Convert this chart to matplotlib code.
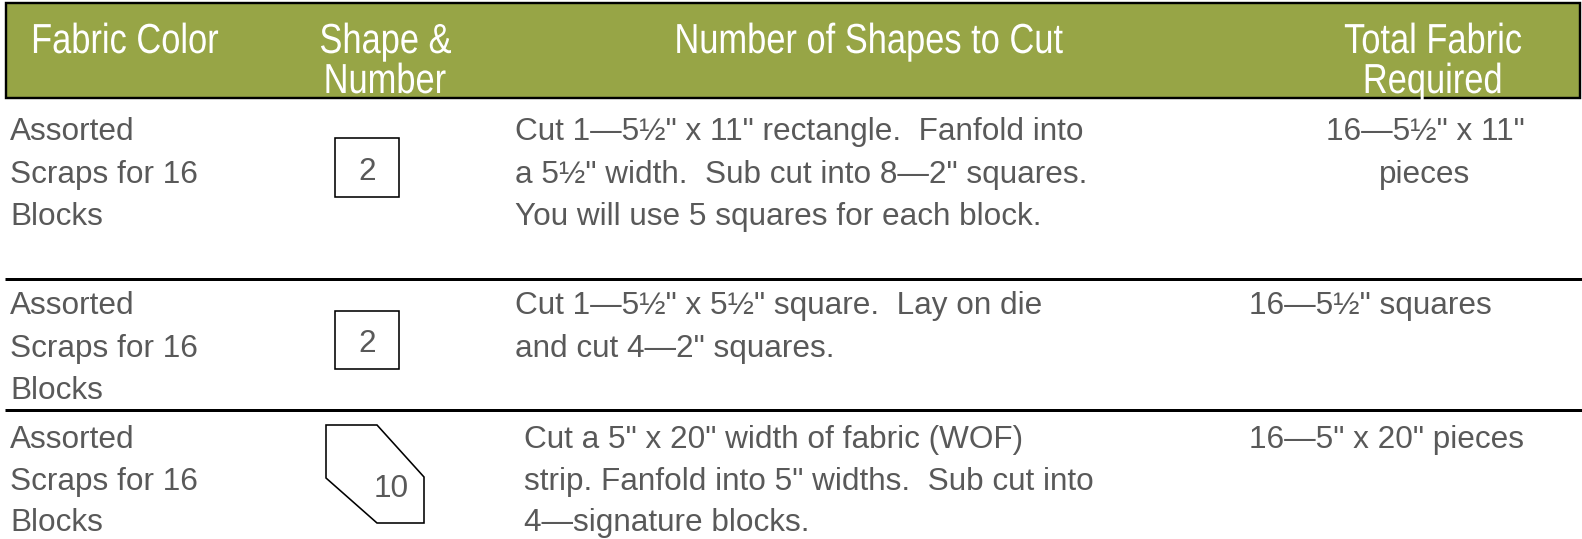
import matplotlib
matplotlib.use("Agg")
import matplotlib.pyplot as plt
from matplotlib.patches import Rectangle, Polygon, PathPatch
from matplotlib.textpath import TextPath
from matplotlib.font_manager import FontProperties
from matplotlib.transforms import Affine2D

# ---------------- data ----------------
headers = ["Fabric Color", "Shape &\nNumber", "Number of Shapes to Cut", "Total Fabric\nRequired"]
fabric_colors = ["Assorted\nScraps for 16\nBlocks"] * 3
shape_numbers = ["2", "2", "10"]
shape_kinds = ["square", "square", "octagon"]
cut_instructions = [
    "Cut 1\u20145\u00bd\" x 11\" rectangle.  Fanfold into\na 5\u00bd\" width.  Sub cut into 8\u20142\" squares.\nYou will use 5 squares for each block.",
    "Cut 1\u20145\u00bd\" x 5\u00bd\" square.  Lay on die\nand cut 4\u20142\" squares.",
    "Cut a 5\" x 20\" width of fabric (WOF)\nstrip. Fanfold into 5\" widths.  Sub cut into\n4\u2014signature blocks.",
]
totals = ["16\u20145\u00bd\" x 11\"\npieces", "16\u20145\u00bd\" squares", "16\u20145\" x 20\" pieces"]

# ---------------- style / layout ----------------
W, H = 1582, 539
green = "#97a546"
gray = "#595959"
body = "Liberation Sans"

fig = plt.figure(figsize=(W / 100, H / 100), dpi=100)
ax = fig.add_axes([0, 0, 1, 1])
ax.set_xlim(0, W)
ax.set_ylim(H, 0)
ax.axis("off")

px = 0.72  # px -> pt at 100 dpi

# header band
ax.add_patch(Rectangle((6, 3), 1574, 95, facecolor=green, edgecolor="black", lw=2.4 * px, zorder=1))


def narrow_text(cx, base, s, size, sx=0.82, color="white"):
    tp = TextPath((0, 0), s, size=size, prop=FontProperties(family=body))
    ext = tp.get_extents()
    w = ext.width * sx
    x0 = ext.x0 * sx
    tr = Affine2D().scale(sx, -1).translate(cx - w / 2 - x0, base)
    path = tr.transform_path(tp)
    ax.add_patch(PathPatch(path, facecolor=color, edgecolor="none", lw=0, zorder=3))


hdr_size = 42
hdr_centers = [126, 386, 870, 1433]
hdr_base = [53, 93]
for h, cx in zip(headers, hdr_centers):
    for i, line in enumerate(h.split("\n")):
        narrow_text(cx, hdr_base[i], line, hdr_size)

# row separators
for y in [279, 410]:
    ax.plot([5, W], [y, y], color="black", lw=3 * px, solid_capstyle="butt", zorder=2)

body_fs = 31.5 * px
row_base = [[140, 183, 225], [314, 357, 399], [448, 490, 531]]
col3_x = [515, 515, 524]
tot_pos = [("center", 1425), ("left", 1249), ("left", 1249)]

for r in range(3):
    bases = row_base[r]
    for i, line in enumerate(fabric_colors[r].split("\n")):
        ax.text(10, bases[i], line, color=gray, fontsize=body_fs, family=body, ha="left", va="baseline")
    for i, line in enumerate(cut_instructions[r].split("\n")):
        ax.text(col3_x[r], bases[i], line, color=gray, fontsize=body_fs, family=body, ha="left", va="baseline")
    ha, tx = tot_pos[r]
    for i, line in enumerate(totals[r].split("\n")):
        ax.text(tx, bases[i], line, color=gray, fontsize=body_fs, family=body, ha=ha, va="baseline")

# shapes
shape_boxes = [(335, 138, 64, 59), (335, 311, 64, 58)]
for r in range(3):
    if shape_kinds[r] == "square":
        x0, y0, w, h = shape_boxes[r]
        ax.add_patch(Rectangle((x0, y0), w, h, facecolor="none", edgecolor="black", lw=1.6 * px))
        ax.text(x0 + w / 2, y0 + h / 2 + 12, shape_numbers[r], color=gray, fontsize=body_fs,
                family=body, ha="center", va="baseline")
    else:
        pts = [(326, 425), (377, 425), (424, 477), (424, 523), (377, 523), (326, 478)]
        ax.add_patch(Polygon(pts, closed=True, facecolor="none", edgecolor="black", lw=1.6 * px))
        ax.text(391, 497, shape_numbers[r], color=gray, fontsize=body_fs, family=body,
                ha="center", va="baseline")

fig.savefig("out.png", dpi=100)
